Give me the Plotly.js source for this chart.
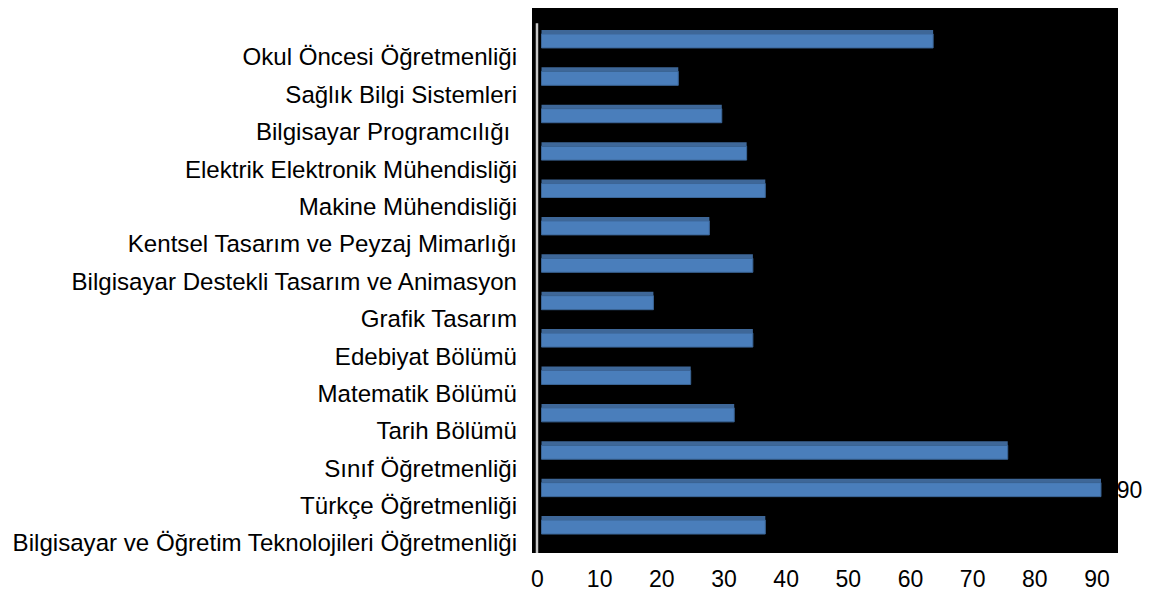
<!DOCTYPE html>
<html>
<head>
<meta charset="utf-8">
<script src="https://cdn.plot.ly/plotly-3.0.1.min.js"></script>
<style>
  html, body { margin: 0; padding: 0; background: #ffffff; }
  #chart { width: 1150px; height: 592px; }
</style>
</head>
<body>
<div id="chart"></div>
<script>
// Categories listed bottom -> top
const categories = [
  "Bilgisayar ve Öğretim Teknolojileri Öğretmenliği",
  "Türkçe Öğretmenliği",
  "Sınıf Öğretmenliği",
  "Tarih Bölümü",
  "Matematik Bölümü",
  "Edebiyat Bölümü",
  "Grafik Tasarım",
  "Bilgisayar Destekli Tasarım ve Animasyon",
  "Kentsel Tasarım ve Peyzaj Mimarlığı",
  "Makine Mühendisliği",
  "Elektrik Elektronik Mühendisliği",
  "Bilgisayar Programcılığı ",
  "Sağlık Bilgi Sistemleri",
  "Okul Öncesi Öğretmenliği"
];
const values = [36, 90, 75, 31, 24, 34, 18, 34, 27, 36, 33, 29, 22, 63];
const dataLabels = ["", "\u00a0\u00a090", "", "", "", "", "", "", "", "", "", "", "", ""];
const xTicks = [0, 10, 20, 30, 40, 50, 60, 70, 80, 90];

const idx = categories.map((c, i) => i);

const front = {
  type: "bar",
  orientation: "h",
  x: values,
  y: idx,
  width: 0.374,
  marker: { color: "#4a7ebb", line: { color: "#3b6596", width: 1 } },
  text: dataLabels,
  textposition: "outside",
  constraintext: "none",
  cliponaxis: false,
  textfont: { family: "Liberation Sans, Arial, sans-serif", size: 23, color: "#000000" },
  hoverinfo: "x+y",
  showlegend: false
};

const topFace = {
  type: "bar",
  orientation: "h",
  x: values,
  y: idx,
  width: 0.107,
  offset: 0.187,
  marker: { color: "#3e6798", line: { width: 0 } },
  hoverinfo: "skip",
  showlegend: false
};

const layout = {
  width: 1150,
  height: 592,
  margin: { l: 532, r: 32, t: 8, b: 39, pad: 0 },
  paper_bgcolor: "#ffffff",
  plot_bgcolor: "#000000",
  barmode: "overlay",
  font: { family: "Liberation Sans, Arial, sans-serif", color: "#000000" },
  xaxis: {
    range: [-1.53, 92.74],
    tickvals: xTicks,
    ticktext: xTicks.map(String),
    showgrid: false,
    zeroline: false,
    showline: false,
    ticks: "",
    ticklabelshift: -4,
    ticklabelstandoff: 10,
    tickfont: { size: 23, color: "#000000" }
  },
  yaxis: {
    range: [-0.694, 13.881],
    tickvals: idx,
    ticktext: categories,
    showgrid: false,
    zeroline: false,
    showline: false,
    ticks: "",
    ticklabelshift: 16,
    ticklabelstandoff: 14,
    tickfont: { size: 24.1, color: "#000000" }
  },
  shapes: [{
    type: "line",
    xref: "paper", yref: "paper",
    x0: 0.0085, x1: 0.0085, y0: 0, y1: 0.972,
    line: { color: "#c8c8c8", width: 2.5 },
    layer: "below"
  }]
};

Plotly.newPlot("chart", [front, topFace], layout, { displayModeBar: false, staticPlot: true });
</script>
</body>
</html>
